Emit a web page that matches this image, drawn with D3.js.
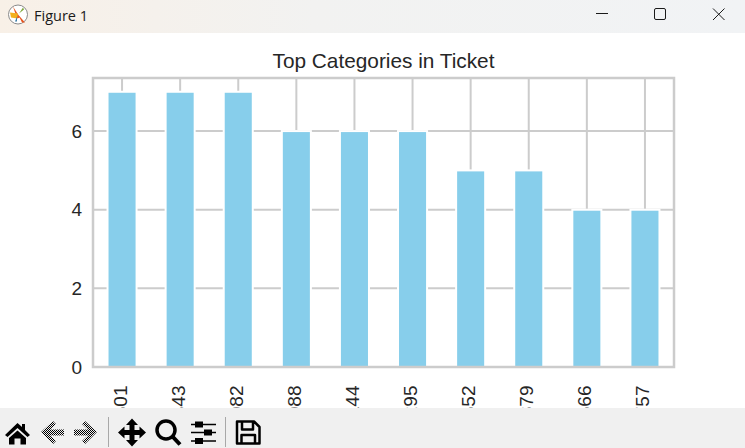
<!DOCTYPE html>
<html>
<head>
<meta charset="utf-8">
<title>Figure 1</title>
<script src="https://cdnjs.cloudflare.com/ajax/libs/d3/7.8.5/d3.min.js"></script>
<style>
html, body { margin: 0; padding: 0; background: #fff; overflow: hidden; }
svg { display: block; }
</style>
</head>
<body>
<script>
// ticket counts
var tickets = ["1601", "CA. 2343", "347082", "347088", "CA 2144", "3101295", "382652", "S.O.C. 14879", "2666", "PC 17757"];
var counts = [7, 7, 7, 6, 6, 6, 5, 5, 4, 4];
var yTicks = [0, 2, 4, 6];
var chartTitle = "Top Categories in Ticket";

var width = 745,
	height = 448;

var left = 93, right = 674, top_ = 78, bottom = 367;
var gridColor = "#cccccc", inkColor = "#262626";
var fontFamily = "'Liberation Sans', Arial, sans-serif";

var svg = d3.select("body").append("svg")
	.attr("width", width)
	.attr("height", height);

var defs = svg.append("defs");

// gradient of the window title bar
var grad = defs.append("linearGradient").attr("id", "titlebar");
grad.append("stop").attr("offset", "0").attr("stop-color", "#f8f0e7");
grad.append("stop").attr("offset", "0.42").attr("stop-color", "#f2f2f1");
grad.append("stop").attr("offset", "1").attr("stop-color", "#f1f3f5");

// 1px checker for the disabled toolbar arrows
var checker = defs.append("pattern").attr("id", "checker")
	.attr("width", 2).attr("height", 2)
	.attr("patternUnits", "userSpaceOnUse");
checker.append("rect").attr("width", 1).attr("height", 1).attr("fill", "#000");
checker.append("rect").attr("x", 1).attr("y", 1).attr("width", 1).attr("height", 1).attr("fill", "#000");

//scales
var x = d3.scaleBand()
	.domain(tickets)
	.range([left, right])
	.paddingInner(0.5)
	.paddingOuter(0.25);

var y = d3.scaleLinear()
	.domain([0, 7.35])
	.range([bottom, top_]);

// grid first, bars sit on top of it
var grid = svg.append("g").attr("stroke", gridColor).attr("stroke-width", 2);
grid.selectAll(".gx").data(tickets).enter().append("line")
	.attr("x1", function(d) { return x(d) + x.bandwidth() / 2; })
	.attr("x2", function(d) { return x(d) + x.bandwidth() / 2; })
	.attr("y1", top_)
	.attr("y2", bottom);
grid.selectAll(".gy").data(yTicks).enter().append("line")
	.attr("x1", left)
	.attr("x2", right)
	.attr("y1", function(d) { return y(d); })
	.attr("y2", function(d) { return y(d); });

// bars, white edge like seaborn whitegrid
svg.append("g").selectAll("rect").data(counts).enter().append("rect")
	.attr("x", function(d, i) { return x(tickets[i]); })
	.attr("y", function(d) { return y(d); })
	.attr("width", x.bandwidth())
	.attr("height", function(d) { return y(0) - y(d); })
	.attr("fill", "#87ceeb")
	.attr("stroke", "#fff")
	.attr("stroke-width", 2);

// spines
svg.append("rect")
	.attr("x", left).attr("y", top_)
	.attr("width", right - left).attr("height", bottom - top_)
	.attr("fill", "none")
	.attr("stroke", gridColor)
	.attr("stroke-width", 2.5);

// axes
var yAxis = svg.append("g")
	.attr("transform", "translate(" + (left - 6) + ",0)")
	.call(d3.axisLeft(y).tickValues(yTicks).tickSize(0).tickPadding(5));
yAxis.select(".domain").remove();
yAxis.selectAll("text")
	.attr("font-family", fontFamily)
	.attr("font-size", 19)
	.attr("fill", inkColor);

// tick labels run on under the toolbar, as in the cropped window
var xAxis = svg.append("g")
	.attr("transform", "translate(0," + bottom + ")")
	.call(d3.axisBottom(x).tickSize(0).tickPadding(0));
xAxis.select(".domain").remove();
xAxis.selectAll("text")
	.attr("font-family", fontFamily)
	.attr("font-size", 19)
	.attr("fill", inkColor)
	.attr("text-anchor", "end")
	.attr("dy", null)
	.attr("dominant-baseline", "central")
	.attr("y", 0)
	.attr("transform", "translate(-2,18.5) rotate(-90)");

svg.append("text")
	.attr("x", (left + right) / 2)
	.attr("y", 68)
	.attr("text-anchor", "middle")
	.attr("font-family", fontFamily)
	.attr("font-size", 20.8)
	.attr("fill", inkColor)
	.text(chartTitle);

// window title bar
svg.append("rect").attr("width", width).attr("height", 33).attr("fill", "url(#titlebar)");
svg.append("text")
	.attr("x", 34).attr("y", 20.5)
	.attr("font-family", "'Open Sans', 'Noto Sans', sans-serif")
	.attr("font-size", 14.5)
	.attr("fill", "#1a1a1a")
	.text("Figure 1");

// window icon
var icon = svg.append("g").attr("transform", "translate(18,14.5)");
icon.append("circle").attr("r", 9.5).attr("fill", "#fff").attr("stroke", "#8a8a8a").attr("stroke-width", 1);
icon.append("path").attr("d", "M-5,-8 L2,3 L-1,4 Z").attr("fill", "#e8541e");
icon.append("path").attr("d", "M0,0 L7,8 L4,8 Z").attr("fill", "#e8541e");
icon.append("path").attr("d", "M-8,-2 L0,-1 L-1,4 L-7,3 Z").attr("fill", "#f2b01e");
icon.append("path").attr("d", "M1,-1 L5,-7 L6,-5 Z").attr("fill", "#7ea83a");
icon.append("path").attr("d", "M-1,2 L-3,7 L-1,7 Z").attr("fill", "#3a7ca8");

// window buttons
var btn = svg.append("g").attr("fill", "none").attr("stroke", "#1a1a1a").attr("stroke-width", 1);
btn.append("line").attr("x1", 596).attr("x2", 608).attr("y1", 13.5).attr("y2", 13.5);
btn.append("rect").attr("x", 654.5).attr("y", 8.5).attr("width", 11).attr("height", 11).attr("rx", 1.5);
btn.append("path").attr("d", "M713,8.5 L724.5,20 M724.5,8.5 L713,20");

// toolbar, covers the lower part of the tick labels
svg.append("rect").attr("y", 408).attr("width", width).attr("height", 40).attr("fill", "#f0f0f0");
var tb = svg.append("g");
tb.append("path").attr("fill", "#000")
	.attr("d", "M17.5,423 L5,435 L7.5,437 L17.5,428 L27.5,437 L30,435 L25,430 L25,424 L22,424 L22,427 Z M9,438 L17.5,430.5 L26,438 L26,444.5 L20.5,444.5 L20.5,438.5 L14.5,438.5 L14.5,444.5 L9,444.5 Z");
tb.append("path").attr("fill", "url(#checker)")
	.attr("d", "M41,432 L53,421 L56,424 L50,429.5 L64,429.5 L64,435.5 L50,435.5 L56,441 L53,444 Z");
tb.append("path").attr("fill", "url(#checker)")
	.attr("d", "M97,432 L85,421 L82,424 L88,429.5 L74,429.5 L74,435.5 L88,435.5 L82,441 L85,444 Z");
tb.append("line").attr("x1", 108.5).attr("x2", 108.5).attr("y1", 417).attr("y2", 447).attr("stroke", "#a8a8a8");
tb.append("path").attr("fill", "#000")
	.attr("d", "M132,418.5 L138,425 L134.5,425 L134.5,430 L139.5,430 L139.5,426.5 L146,432.5 L139.5,438.5 L139.5,435 L134.5,435 L134.5,440 L138,440 L132,446.5 L126,440 L129.5,440 L129.5,435 L124.5,435 L124.5,438.5 L118,432.5 L124.5,426.5 L124.5,430 L129.5,430 L129.5,425 L126,425 Z");
tb.append("circle").attr("cx", 166).attr("cy", 430).attr("r", 9).attr("fill", "none").attr("stroke", "#000").attr("stroke-width", 3.5);
tb.append("line").attr("x1", 172.5).attr("y1", 436.5).attr("x2", 180).attr("y2", 444.5).attr("stroke", "#000").attr("stroke-width", 4);
var sliders = tb.append("g").attr("stroke", "#000").attr("stroke-width", 1.5);
[424.5, 432.5, 441].forEach(function(yy) {
	sliders.append("line").attr("x1", 191).attr("x2", 216).attr("y1", yy).attr("y2", yy);
});
tb.append("rect").attr("x", 195).attr("y", 421.5).attr("width", 8).attr("height", 6).attr("fill", "#000");
tb.append("rect").attr("x", 204).attr("y", 429.5).attr("width", 8).attr("height", 6).attr("fill", "#000");
tb.append("rect").attr("x", 195).attr("y", 438).attr("width", 8).attr("height", 6).attr("fill", "#000");
tb.append("line").attr("x1", 225.5).attr("x2", 225.5).attr("y1", 417).attr("y2", 447).attr("stroke", "#a8a8a8");
tb.append("path").attr("fill", "none").attr("stroke", "#000").attr("stroke-width", 2.5).attr("stroke-linejoin", "round")
	.attr("d", "M237,421.5 L254,421.5 L259.5,427 L259.5,443.5 L237,443.5 Z M242,421.5 L242,429.5 L253,429.5 L253,421.5 M241.5,443.5 L241.5,435 L255,435 L255,443.5");
</script>
</body>
</html>
